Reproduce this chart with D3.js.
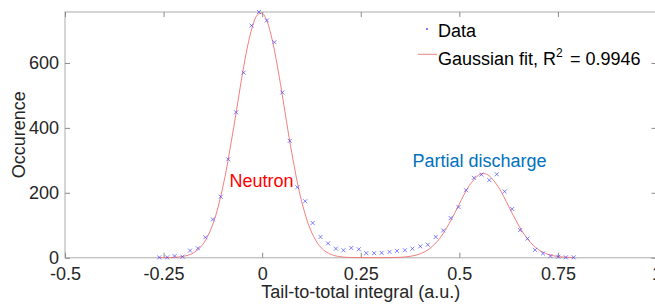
<!doctype html>
<html>

<head>
    <style>
        body { margin: 0; background: #fff; }
        text { font-family: "Liberation Sans", Arial, sans-serif; }
        .tk line { stroke: #8a8a8a; }
        .tk text { fill: #262626; font-size: 18px; }
    </style>
    <script src="https://d3js.org/d3.v7.min.js"></script>
</head>

<body>
    <svg width="655" height="307"></svg>
    <script>

        // measured histogram (bin centres, counts)
        var binX = [-0.261, -0.241, -0.222, -0.202, -0.183, -0.163, -0.144, -0.125, -0.105, -0.086,
            -0.066, -0.047, -0.027, -0.008, 0.012, 0.031, 0.051, 0.070, 0.089, 0.109,
            0.128, 0.148, 0.167, 0.187, 0.206, 0.226, 0.245, 0.264, 0.284, 0.303,
            0.323, 0.342, 0.362, 0.381, 0.401, 0.420, 0.440, 0.459, 0.478, 0.498,
            0.517, 0.537, 0.556, 0.576, 0.595, 0.615, 0.634, 0.654, 0.673, 0.692,
            0.712, 0.731, 0.751, 0.770, 0.790];
        var counts = [1, 1, 5, 3, 22, 29, 63, 118, 188, 303,
            448, 570, 715, 757, 731, 664, 509, 360, 217, 174,
            107, 64, 44, 28, 23, 30, 26, 14, 14, 15,
            18, 21, 23, 28, 35, 40, 64, 84, 122, 156,
            208, 246, 256, 239, 257, 204, 150, 85, 59, 24,
            13, 5, 3, 1, 1];

        // gaussian fit curve
        var fitX = [-0.261, -0.25, -0.225, -0.2, -0.175, -0.15, -0.125, -0.1, -0.075, -0.05,
            -0.0375, -0.025, -0.0125, 0, 0.0125, 0.025, 0.0375, 0.05, 0.075, 0.1,
            0.125, 0.15, 0.175, 0.2, 0.225, 0.25, 0.275, 0.3, 0.325, 0.35,
            0.375, 0.4, 0.425, 0.45, 0.475, 0.5, 0.525, 0.55, 0.5625, 0.575,
            0.6, 0.625, 0.65, 0.675, 0.7, 0.725, 0.75, 0.775, 0.79];
        var fitY = [0.1, 0.2, 1.0, 4.1, 14.3, 41.8, 103.5, 216.2, 381, 566.5,
            648.4, 711, 747.6, 753.4, 727.6, 673.6, 597.7, 508.3, 323.7, 174,
            79, 30.2, 9.8, 2.7, 0.6, 0.1, 0, 0.1, 0.3, 1.2,
            4.1, 11.6, 28.2, 59.2, 106.8, 165.8, 221.8, 255.3, 259, 253,
            215.9, 158.6, 100.3, 54.6, 25.6, 10.3, 3.6, 1.1, 0.5];

        var xTicks = [-0.5, -0.25, 0, 0.25, 0.5, 0.75, 1];
        var xTickLabels = ["-0.5", "-0.25", "0", "0.25", "0.5", "0.75", "1"];
        var yTicks = [0, 200, 400, 600];

        var svg = d3.select("svg"),
            pLeft = 65, pRight = 656.5, pTop = 12, pBottom = 257.7;

        var x = d3.scaleLinear().domain([-0.5, 1]).range([pLeft, pRight]),
            y = d3.scaleLinear().domain([0, 757]).range([pBottom, pTop]);

        // box
        svg.append("rect")
            .attr("x", pLeft).attr("y", pTop)
            .attr("width", pRight - pLeft).attr("height", pBottom - pTop)
            .attr("fill", "none")
            .attr("stroke", "#c4c4c4")
            .attr("stroke-width", 1.4);

        var fmt = function (d) { return xTickLabels[xTicks.indexOf(d)]; };

        svg.append("g").attr("class", "tk")
            .attr("transform", "translate(0," + pBottom + ")")
            .call(d3.axisBottom(x).tickValues(xTicks).tickFormat(fmt).tickSize(-5).tickSizeOuter(0).tickPadding(9.5));

        svg.append("g").attr("class", "tk")
            .attr("transform", "translate(0," + pTop + ")")
            .call(d3.axisTop(x).tickValues(xTicks).tickFormat("").tickSize(-5).tickSizeOuter(0));

        svg.append("g").attr("class", "tk")
            .attr("transform", "translate(" + pLeft + ",0)")
            .call(d3.axisLeft(y).tickValues(yTicks).tickSize(-5).tickSizeOuter(0).tickPadding(6));

        svg.append("g").attr("class", "tk")
            .attr("transform", "translate(" + pRight + ",0)")
            .call(d3.axisRight(y).tickValues(yTicks).tickFormat("").tickSize(-5).tickSizeOuter(0));

        svg.selectAll(".tk .domain").remove();
        svg.selectAll(".tk text").attr("font-size", null).attr("font-family", null);

        // fit line
        var line = d3.line()
            .x(function (d, i) { return x(fitX[i]); })
            .y(function (d) { return y(d); })
            .curve(d3.curveCatmullRom);

        svg.append("path")
            .datum(fitY)
            .attr("d", line)
            .attr("fill", "none")
            .attr("stroke", "#f07070")
            .attr("stroke-width", 0.9);

        // data markers
        svg.selectAll(".pt")
            .data(counts)
            .enter().append("path")
            .attr("class", "pt")
            .attr("transform", function (d, i) { return "translate(" + x(binX[i]) + "," + y(d) + ")"; })
            .attr("d", "M-2,-2L2,2M-2,2L2,-2")
            .attr("stroke", "#4646ff")
            .attr("stroke-width", 0.7)
            .attr("fill", "none");

        // axis labels
        svg.append("text")
            .attr("x", (pLeft + pRight) / 2)
            .attr("y", 298)
            .attr("text-anchor", "middle")
            .attr("font-size", "18px")
            .attr("fill", "#262626")
            .text("Tail-to-total integral (a.u.)");

        svg.append("text")
            .attr("transform", "translate(25," + (pTop + pBottom) / 2 + ") rotate(-90)")
            .attr("text-anchor", "middle")
            .attr("font-size", "18px")
            .attr("fill", "#262626")
            .text("Occurence");

        // annotations
        svg.append("text")
            .attr("x", x(-0.083))
            .attr("y", y(218))
            .attr("font-size", "18px")
            .attr("fill", "#ff0000")
            .text("Neutron");

        svg.append("text")
            .attr("x", x(0.381))
            .attr("y", y(279))
            .attr("font-size", "18px")
            .attr("fill", "#0072bd")
            .text("Partial discharge");

        // legend
        var lg = svg.append("g");
        lg.append("path")
            .attr("d", "M426,28L428,30M426,30L428,28")
            .attr("stroke", "#4646ff")
            .attr("stroke-width", 0.7);
        lg.append("text")
            .attr("x", 438).attr("y", 36.7)
            .attr("font-size", "18px")
            .attr("fill", "#000")
            .text("Data");
        lg.append("line")
            .attr("x1", 418).attr("x2", 437)
            .attr("y1", 54.3).attr("y2", 54.3)
            .attr("stroke", "#f07070")
            .attr("stroke-width", 0.9);
        var t2 = lg.append("text")
            .attr("x", 438).attr("y", 65)
            .attr("font-size", "18px")
            .attr("fill", "#000");
        t2.append("tspan").text("Gaussian fit, R");
        t2.append("tspan").attr("font-size", "12px").attr("dy", -8).text("2");
        t2.append("tspan").attr("x", 570).attr("dy", 8).text("= 0.9946");
    </script>
</body>

</html>
